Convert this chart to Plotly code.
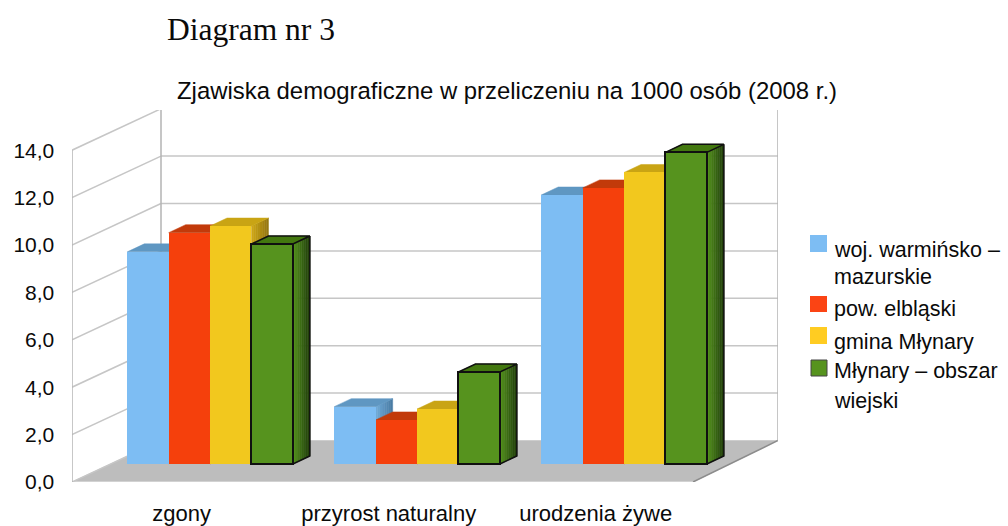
import plotly.graph_objects as go

# ---------- data ----------
categories = ["zgony", "przyrost naturalny", "urodzenia żywe"]
woj = [8.95, 2.42, 11.35]
pow_elb = [9.76, 1.86, 11.65]
gmina = [10.04, 2.32, 12.3]
obszar = [9.28, 3.88, 13.15]
series_names = ["woj. warmińsko – mazurskie", "pow. elbląski", "gmina Młynary", "Młynary – obszar wiejski"]
tick_values = [0, 2, 4, 6, 8, 10, 12, 14]
tick_labels = ["0,0", "2,0", "4,0", "6,0", "8,0", "10,0", "12,0", "14,0"]

# ---------- geometry / style ----------
W, H = 1008, 526
L, T, PW, PH = 72, 110, 706, 372
XU, YU = 207.0, 23.7           # px per category, px per value unit
x0 = -0.5
x1 = x0 + PW / XU
y0 = 0.0
y1 = PH / YU
DXL, DXR, DY = 89 / XU, 85 / XU, 41.5 / YU   # depth of the box
BAR_SHIFT, BAR_W, BAR_BASE = 0.167, 0.2, 0.76
BAR_DX, BAR_DY = 17 / XU, 8 / YU
FRONT = ["#7DBDF3", "#F5400C", "#F2C81E", "#56931E"]
TOP = ["#5F97C2", "#C23A0A", "#C9A414", "#43780F"]
SIDE_A = [(112, 170, 215), (214, 60, 12), (205, 165, 20), (84, 145, 30)]
SIDE_B = [(74, 124, 165), (150, 45, 8), (150, 120, 18), (34, 66, 10)]
GRID = "#C6C6C6"
FRAME = "#B4B4B4"
FLOOR = "#BDBDBD"
SERIES = [woj, pow_elb, gmina, obszar]

fig = go.Figure()


def poly(xs, ys, color):
    fig.add_trace(go.Scatter(x=xs, y=ys, mode="lines", fill="toself", fillcolor=color,
                             line=dict(color=color, width=0.5), hoverinfo="skip", showlegend=False))


def line(xs, ys, color, width=1.5):
    fig.add_trace(go.Scatter(x=xs, y=ys, mode="lines", line=dict(color=color, width=width),
                             hoverinfo="skip", showlegend=False))


xr = x0 + 3
# floor
poly([x0, xr, xr + DXR, x0 + DXL, x0], [y0, y0, DY, DY, y0], FLOOR)
line([x0, xr], [y0, y0], "#D2D2D2", 2)
line([xr, xr + DXR], [y0, DY], "#8C8C8C", 1.5)
# back wall
for v in tick_values[1:]:
    line([x0 + DXL, xr + DXR], [v + DY, v + DY], GRID)
    line([x0, x0 + DXL], [v, v + DY], GRID)
line([x0, x0 + DXL], [y0, DY], GRID)
top = tick_values[-1]
line([x0 + DXL, x0 + DXL, xr + DXR, xr + DXR], [DY, top + DY, top + DY, DY], FRAME)
line([x0, x0], [y0, top], FRAME)

# bar sides and tops, back-to-front from left to right
STRIPS = 8
for c in range(len(categories)):
    for s, vals in enumerate(SERIES):
        left = c + BAR_SHIFT - 2 * BAR_W + s * BAR_W
        right = left + BAR_W
        b, t = BAR_BASE, BAR_BASE + vals[c]
        for k in range(STRIPS):
            f0, f1 = k / STRIPS, (k + 1) / STRIPS
            m = k / (STRIPS - 1)
            col = "rgb(%d,%d,%d)" % tuple(round(a + (z - a) * m) for a, z in zip(SIDE_A[s], SIDE_B[s]))
            poly([right + BAR_DX * f0, right + BAR_DX * f1, right + BAR_DX * f1, right + BAR_DX * f0, right + BAR_DX * f0],
                 [b + BAR_DY * f0, b + BAR_DY * f1, t + BAR_DY * f1, t + BAR_DY * f0, b + BAR_DY * f0], col)
        poly([left, right, right + BAR_DX, left + BAR_DX, left], [t, t, t + BAR_DY, t + BAR_DY, t], TOP[s])
        if s == 3:
            line([left, left + BAR_DX, right + BAR_DX, right], [t, t + BAR_DY, t + BAR_DY, t], "#101010", 1.5)
            line([right + BAR_DX, right + BAR_DX, right], [t + BAR_DY, b + BAR_DY, b], "#101010", 1.5)

# bar fronts on an overlaying axis pair, so they sit above the faces
for s, vals in enumerate(SERIES):
    fig.add_trace(go.Bar(
        x=[c + BAR_SHIFT - 2 * BAR_W + (s + 0.5) * BAR_W for c in range(len(categories))],
        y=vals, base=BAR_BASE, width=BAR_W, name=series_names[s], xaxis="x2", yaxis="y2",
        marker=dict(color=FRONT[s], line=dict(color="#101010" if s == 3 else FRONT[s], width=2 if s == 3 else 0)),
        showlegend=False,
    ))

FONT = "Liberation Sans"
TXT = "#0A0A0A"
LEG = 21.5
anns = [
    dict(text="Diagram nr 3", x=165, y=30, xanchor="left", size=31.5, family="Liberation Serif"),
    dict(text="Zjawiska demograficzne w przeliczeniu na 1000 osób (2008 r.)", x=506.5, y=90, xanchor="center", size=23.9, family=FONT),
    dict(text="woj. warmińsko –", x=832, y=250, xanchor="left", size=LEG, family=FONT),
    dict(text="mazurskie", x=832, y=277, xanchor="left", size=LEG, family=FONT),
    dict(text="pow. elbląski", x=832, y=309, xanchor="left", size=LEG, family=FONT),
    dict(text="gmina Młynary", x=832, y=342, xanchor="left", size=LEG, family=FONT),
    dict(text="Młynary – obszar", x=832, y=371, xanchor="left", size=LEG, family=FONT),
    dict(text="wiejski", x=832, y=401, xanchor="left", size=LEG, family=FONT),
]
annotations = [dict(text=a["text"], x=(a["x"] - L) / PW, y=1 - (a["y"] - T) / PH, xref="paper", yref="paper",
                    xanchor=a["xanchor"], yanchor="middle", showarrow=False,
                    font=dict(family=a["family"], size=a["size"], color=TXT)) for a in anns]

swatches = [(810, 235, 827, 252, FRONT[0]), (810, 296, 827, 312, "#FB4414"),
            (810, 327, 827, 344, "#FFCC22"), (811, 360, 827, 376, FRONT[3])]
shapes = [dict(type="rect", xref="paper", yref="paper", x0=(a - L) / PW, x1=(c - L) / PW,
               y0=1 - (b - T) / PH, y1=1 - (d - T) / PH, fillcolor=col,
               line=dict(color="#444444" if col == FRONT[3] else col, width=1 if col == FRONT[3] else 0))
          for a, b, c, d, col in swatches]

fig.update_layout(
    width=W, height=H, autosize=False,
    margin=dict(l=L, r=W - L - PW, t=T, b=H - T - PH, autoexpand=False),
    paper_bgcolor="white", plot_bgcolor="white",
    barmode="overlay", bargap=0, showlegend=False,
    annotations=annotations, shapes=shapes,
    xaxis=dict(range=[x0, x1], tickmode="array", automargin=False,
               tickvals=[c + 0.03 for c in range(len(categories))], ticktext=categories,
               showgrid=False, zeroline=False, showline=False, ticks="outside", ticklen=12,
               tickcolor="rgba(0,0,0,0)", tickfont=dict(family=FONT, size=22, color=TXT)),
    yaxis=dict(range=[y0, y1], tickmode="array", tickvals=tick_values, ticktext=tick_labels, automargin=False,
               showgrid=False, zeroline=False, showline=False, ticks="outside", ticklen=12.5,
               tickcolor="rgba(0,0,0,0)", tickfont=dict(family=FONT, size=21, color=TXT)),
    xaxis2=dict(range=[x0, x1], overlaying="x", anchor="y2", visible=False),
    yaxis2=dict(range=[y0, y1], overlaying="y", anchor="x2", visible=False),
)

fig.write_html("out.html", config=dict(displayModeBar=False),
               post_script="document.body.style.margin='0';document.body.style.overflow='hidden';")
